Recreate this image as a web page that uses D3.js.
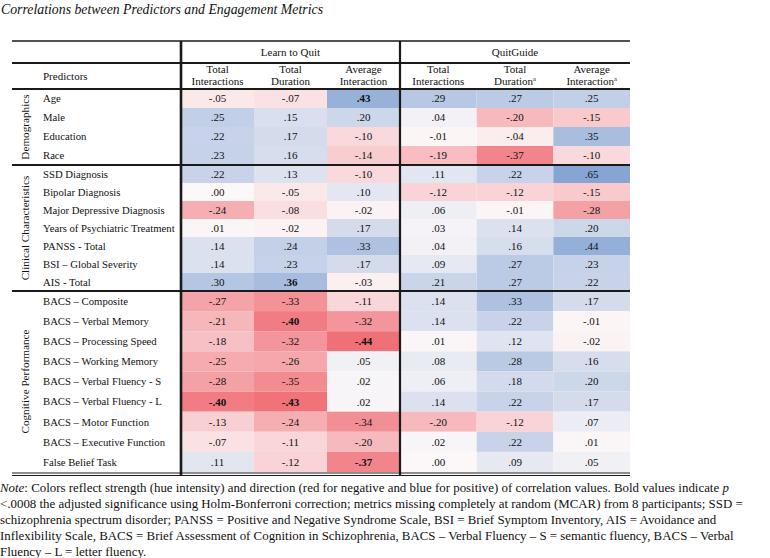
<!DOCTYPE html>
<html>
<head>
<meta charset="utf-8">
<script src="https://cdn.jsdelivr.net/npm/d3@7"></script>
<style>
  html, body { margin: 0; padding: 0; background: #fff; }
  svg text { font-family: "Liberation Serif", "Times New Roman", serif; fill: #111; }
</style>
</head>
<body>
<svg id="chart" width="770" height="558"></svg>
<script>
// ---------------- DATA ----------------
const title = "Correlations between Predictors and Engagement Metrics";
const groups = ["Learn to Quit", "QuitGuide"];
const metrics = ["TI", "TD", "AI"];
const metricLabels = [
  ["Total", "Interactions", ""],
  ["Total", "Duration", ""],
  ["Average", "Interaction", ""]
];
const qgMetricLabels = [
  ["Total", "Interactions", ""],
  ["Total", "Duration", "a"],
  ["Average", "Interaction", "a"]
];
const sections = ["Demographics", "Clinical Characteristics", "Cognitive Performance"];
const predictors = [
  "Age", "Male", "Education", "Race",
  "SSD Diagnosis", "Bipolar Diagnosis", "Major Depressive Diagnosis", "Years of Psychiatric Treatment",
  "PANSS - Total", "BSI \u2013 Global Severity", "AIS - Total",
  "BACS \u2013 Composite", "BACS \u2013 Verbal Memory", "BACS \u2013 Processing Speed", "BACS \u2013 Working Memory",
  "BACS \u2013 Verbal Fluency - S", "BACS \u2013 Verbal Fluency - L", "BACS \u2013 Motor Function",
  "BACS \u2013 Executive Function", "False Belief Task"
];
const predictorSection = [0,0,0,0, 1,1,1,1,1,1,1, 2,2,2,2,2,2,2,2,2];
// Learn to Quit: Total Interactions, Total Duration, Average Interaction
const ltqValues = [
  [-.05, -.07, .43], [.25, .15, .20], [.22, .17, -.10], [.23, .16, -.14],
  [.22, .13, -.10], [.00, -.05, .10], [-.24, -.08, -.02], [.01, -.02, .17],
  [.14, .24, .33], [.14, .23, .17], [.30, .36, -.03],
  [-.27, -.33, -.11], [-.21, -.40, -.32], [-.18, -.32, -.44], [-.25, -.26, .05],
  [-.28, -.35, .02], [-.40, -.43, .02], [-.13, -.24, -.34], [-.07, -.11, -.20], [.11, -.12, -.37]
];
// QuitGuide: Total Interactions, Total Duration, Average Interaction
const qgValues = [
  [.29, .27, .25], [.04, -.20, -.15], [-.01, -.04, .35], [-.19, -.37, -.10],
  [.11, .22, .65], [-.12, -.12, -.15], [.06, -.01, -.28], [.03, .14, .20],
  [.04, .16, .44], [.09, .27, .23], [.21, .27, .22],
  [.14, .33, .17], [.14, .22, -.01], [.01, .12, -.02], [.08, .28, .16],
  [.06, .18, .20], [.14, .22, .17], [-.20, -.12, .07], [.02, .22, .01], [.00, .09, .05]
];
// Bold (significant) cells: [predictor index, group index, metric index]
const boldCells = [[0,0,2],[10,0,1],[12,0,1],[13,0,2],[16,0,0],[16,0,1],[19,0,2]];
const noteLines = [
  [["i","Note"],["n",": Colors reflect strength (hue intensity) and direction (red for negative and blue for positive) of correlation values. Bold values indicate "],["i","p"]],
  [["n","<.0008 the adjusted significance using Holm-Bonferroni correction; metrics missing completely at random (MCAR) from 8 participants; SSD ="]],
  [["n","schizophrenia spectrum disorder; PANSS = Positive and Negative Syndrome Scale, BSI =  Brief Symptom Inventory,  AIS = Avoidance and"]],
  [["n","Inflexibility Scale, BACS = Brief Assessment of Cognition in Schizophrenia, BACS \u2013 Verbal Fluency \u2013 S = semantic fluency, BACS \u2013 Verbal"]],
  [["n","Fluency \u2013 L = letter fluency."]]
];

// ---------------- LAYOUT ----------------
const svg = d3.select("#chart");
const L = 12, R = 630, xSplit1 = 181, xSplit2 = 400;
const yTop = 41, yGroup = 63, yHead = 89, yBottom = 472;
const sectionRanges = [[yHead, 165], [165, 291], [291, yBottom]];
const lineColor = "#1a1a1a";

const color = d3.scaleLinear()
  .domain([-0.5, 0, 0.5])
  .range(["#ee5d65", "#fcf8f9", "#86a5d4"])
  .clamp(true);

const xGroup = d3.scaleOrdinal().domain(groups).range([[xSplit1, xSplit2], [xSplit2, R]]);
const xBand = {};
groups.forEach(g => { xBand[g] = d3.scaleBand().domain(metrics).range(xGroup(g)); });

const yBand = sections.map((s, si) => d3.scaleBand()
  .domain(predictors.filter((p, i) => predictorSection[i] === si))
  .range(sectionRanges[si]));
const yRow = (i) => yBand[predictorSection[i]](predictors[i]);
const hRow = (i) => yBand[predictorSection[i]].bandwidth();

const locale = d3.formatLocale({ decimal: ".", thousands: ",", grouping: [3], currency: ["", ""], minus: "-" });
const fmt = v => locale.format(".2f")(v).replace("0.", ".");
const isBold = (i, g, m) => boldCells.some(b => b[0] === i && b[1] === g && b[2] === m);

// Title
svg.append("text").attr("x", 1).attr("y", 14)
  .style("font-size", "13.8px").style("font-style", "italic").text(title);

// Cells
const cells = [];
predictors.forEach((p, i) => {
  groups.forEach((g, gi) => {
    const vals = gi === 0 ? ltqValues[i] : qgValues[i];
    metrics.forEach((m, mi) => cells.push({ i, g, gi, m, mi, v: vals[mi] }));
  });
});
const cg = svg.append("g");
cg.selectAll("rect").data(cells).join("rect")
  .attr("x", d => xBand[d.g](d.m))
  .attr("y", d => yRow(d.i))
  .attr("width", d => xBand[d.g].bandwidth())
  .attr("height", d => hRow(d.i))
  .attr("fill", d => color(d.v));
cg.selectAll("text").data(cells).join("text")
  .attr("x", d => xBand[d.g](d.m) + xBand[d.g].bandwidth() / 2)
  .attr("y", d => yRow(d.i) + hRow(d.i) / 2)
  .attr("dy", "0.36em")
  .attr("text-anchor", "middle")
  .style("font-size", "11px")
  .style("font-weight", d => isBold(d.i, d.gi, d.mi) ? "bold" : "normal")
  .text(d => fmt(d.v));

// Predictor labels
svg.append("g").selectAll("text").data(predictors).join("text")
  .attr("x", 43)
  .attr("y", (d, i) => yRow(i) + hRow(i) / 2)
  .attr("dy", "0.36em")
  .style("font-size", "10.7px")
  .text(d => d);

// Section labels (vertical)
svg.append("g").selectAll("text").data(sections).join("text")
  .attr("transform", (d, i) => `translate(25,${(sectionRanges[i][0] + sectionRanges[i][1]) / 2}) rotate(-90)`)
  .attr("dy", "0.36em")
  .attr("text-anchor", "middle")
  .style("font-size", "11.2px")
  .text(d => d);

// Header: group titles
svg.append("g").selectAll("text").data(groups).join("text")
  .attr("x", g => (xGroup(g)[0] + xGroup(g)[1]) / 2)
  .attr("y", (yTop + yGroup) / 2)
  .attr("dy", "0.36em")
  .attr("text-anchor", "middle")
  .style("font-size", "11px")
  .text(d => d);

// Header: metric labels
const headData = [];
groups.forEach((g, gi) => metrics.forEach((m, mi) => headData.push({ g, m, lab: gi === 0 ? metricLabels[mi] : qgMetricLabels[mi] })));
const hg = svg.append("g").selectAll("g").data(headData).join("g")
  .attr("transform", d => `translate(${xBand[d.g](d.m) + xBand[d.g].bandwidth() / 2},0)`);
hg.append("text").attr("y", 73).attr("text-anchor", "middle").style("font-size", "11px").text(d => d.lab[0]);
const t2 = hg.append("text").attr("y", 85).attr("text-anchor", "middle").style("font-size", "11px");
t2.append("tspan").text(d => d.lab[1]);
t2.append("tspan").attr("dy", -4).style("font-size", "6.5px").text(d => d.lab[2]);

svg.append("text").attr("x", 43).attr("y", 80).style("font-size", "11px").text("Predictors");

// Rules
const hl = (y, w) => svg.append("line").attr("x1", L).attr("x2", R).attr("y1", y).attr("y2", y)
  .attr("stroke", lineColor).attr("stroke-width", w);
hl(yTop, 1.5);
hl(yGroup, 1.8);
hl(yHead, 2.2);
hl(165, 1.8);
hl(291, 1.8);
hl(yBottom + 1, 1);
hl(yBottom + 3.5, 1);
const vl = (x, w) => svg.append("line").attr("x1", x).attr("x2", x).attr("y1", yTop).attr("y2", yBottom + 4)
  .attr("stroke", lineColor).attr("stroke-width", w);
vl(xSplit1, 2.6);
vl(xSplit2, 2.2);

// Note
const ng = svg.append("g");
noteLines.forEach((line, li) => {
  const t = ng.append("text").attr("x", 0).attr("y", 492 + li * 16).style("font-size", "12.9px");
  line.forEach(seg => t.append("tspan").style("font-style", seg[0] === "i" ? "italic" : "normal").text(seg[1]));
});
</script>
</body>
</html>
